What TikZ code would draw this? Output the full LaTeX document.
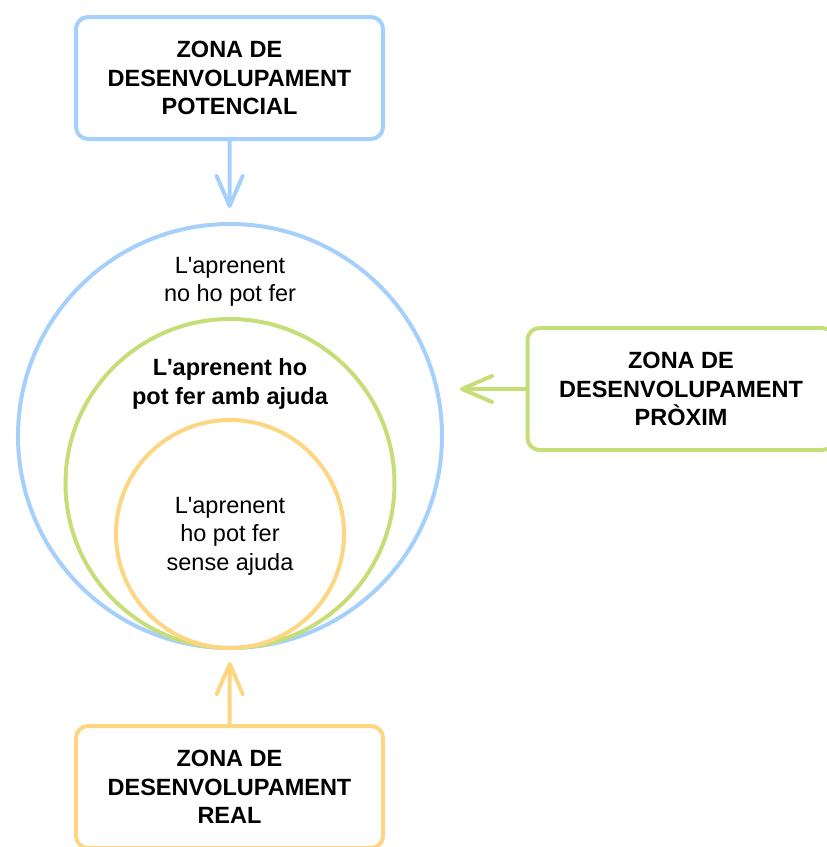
\documentclass[tikz,border=0pt]{standalone}
\usepackage{fontspec}
\setmainfont{Liberation Sans}
\usetikzlibrary{arrows.meta}
\definecolor{zblue}{RGB}{166,208,252}
\definecolor{zgreen}{RGB}{198,222,120}
\definecolor{zyellow}{RGB}{252,214,128}
\begin{document}
\begin{tikzpicture}[
  x=1pt, y=-1pt,
  zone/.style={draw, line width=4pt, rounded corners=12pt, minimum width=307pt, minimum height=122pt,
    align=center, font=\fontsize{23.5}{28.5}\selectfont\bfseries},
  ring/.style={draw, circle, line width=4pt, inner sep=0pt},
  lab/.style={align=center, font=\fontsize{23.5}{28.5}\selectfont},
  arr/.style={line width=4pt, -{Straight Barb[length=30pt, width=26pt, round]}}
]
\useasboundingbox (0,0) rectangle (827,847);
\node[ring, zblue, minimum size=424pt] (no) at (230,436) {};
\node[ring, zgreen, minimum size=329pt] (amb) at (230,483.5) {};
\node[ring, zyellow, minimum size=228pt] (sense) at (230,534) {};
\node[lab] (tno) at (230,282) {L\textquotesingle aprenent\\no ho pot fer};
\node[lab, font=\fontsize{23.5}{28.5}\selectfont\bfseries] (tamb) at (230,384) {L\textquotesingle aprenent ho\\pot fer amb ajuda};
\node[lab] (tsense) at (230,536) {L\textquotesingle aprenent\\ho pot fer\\sense ajuda};
\node[zone, draw=zblue] (potencial) at (229.5,78) {ZONA DE\\DESENVOLUPAMENT\\POTENCIAL};
\node[zone, draw=zgreen] (proxim) at (681,389) {ZONA DE\\DESENVOLUPAMENT\\PRÒXIM};
\node[zone, draw=zyellow] (real) at (229.5,787) {ZONA DE\\DESENVOLUPAMENT\\REAL};
\draw[arr, zblue, shorten >=14pt] (potencial) -- (no);
\draw[arr, zgreen, shorten >=16pt] (proxim.west) -- (proxim.west -| no.east);
\draw[arr, zyellow, shorten >=12pt] (real) -- (sense);
\end{tikzpicture}
\end{document}
